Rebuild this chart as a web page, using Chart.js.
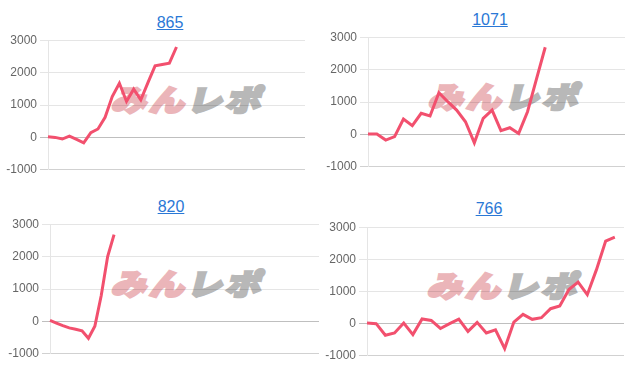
<!DOCTYPE html>
<html>
<head>
<meta charset="utf-8">
<script src="https://cdn.jsdelivr.net/npm/chart.js@4/dist/chart.umd.min.js"></script>
<style>
	body { margin: 0; background: #fff; width: 640px; height: 372px; position: relative; overflow: hidden; }
	.title { position: absolute; width: 100px; text-align: center; font: 16px "Liberation Sans", Arial, sans-serif; line-height: 20px; }
	.title a { color: #2a78d6; text-decoration: underline; }
	.wm { position: absolute; font-family: "Noto Sans CJK JP", sans-serif; font-weight: 900; font-size: 34px; line-height: 1; white-space: nowrap; letter-spacing: 3px; transform: skewX(-14deg) scale(1.03, 0.86); transform-origin: left bottom; }
	.wm .a { color: #ebb5b9; -webkit-text-stroke: 3px #ebb5b9; }
	.wm .b { color: #b8b8b8; -webkit-text-stroke: 3px #b8b8b8; }
	canvas { position: absolute; }
</style>
</head>
<body>
<script>
// values per chart (yen), trailing days have no data yet
const values865 = [20, 0, -50, 40, -60, -165, 145, 260, 620, 1260, 1670, 1110, 1490, 1160, 1690, 2210, 2250, 2290, 2790];
const values1071 = [10, 10, -175, -70, 475, 270, 650, 570, 1290, 1010, 750, 390, -260, 495, 750, 115, 205, 30, 700, 1700, 2690];
const values820 = [30, -50, -130, -200, -240, -290, -520, -150, 800, 2000, 2680];
const values766 = [20, 0, -360, -290, 20, -340, 145, 100, -150, 0, 140, -240, 40, -290, -190, -775, 50, 290, 135, 185, 465, 550, 1060, 1290, 900, 1680, 2570, 2690];

// number of days on each x axis
const dayCounts = [37, 30, 43, 29];
const titles = ['865', '1071', '820', '766'];
const yTicks = [-1000, 0, 1000, 2000, 3000];

const panels = [
	{ title: titles[0], data: values865, days: dayCounts[0], left: 3, top: 30, width: 307, height: 150, tx: 120, ty: 13, wx: 110, wy: 80 },
	{ title: titles[1], data: values1071, days: dayCounts[1], left: 323, top: 27, width: 307, height: 150, tx: 440, ty: 10, wx: 427, wy: 77 },
	{ title: titles[2], data: values820, days: dayCounts[2], left: 5, top: 214, width: 319, height: 150, tx: 121, ty: 197, wx: 110, wy: 264 },
	{ title: titles[3], data: values766, days: dayCounts[3], left: 322, top: 217, width: 307, height: 149, tx: 439, ty: 199, wx: 426, wy: 266 }
];

function dayLabels(n) {
	const out = [];
	for (let i = 1; i <= n; i++) out.push(String(i));
	return out;
}

function gridColor(ctx) {
	if (ctx.tick && ctx.tick.value === 0) return 'rgba(0,0,0,0.25)';
	if (ctx.tick && ctx.tick.value === -1000) return 'rgba(0,0,0,0.18)';
	return 'rgba(0,0,0,0.1)';
}

panels.forEach(p => {
	const t = document.createElement('div');
	t.className = 'title';
	t.style.left = p.tx + 'px';
	t.style.top = p.ty + 'px';
	t.innerHTML = `<a href="#">${p.title}</a>`;
	document.body.appendChild(t);

	const wm = document.createElement('div');
	wm.className = 'wm';
	wm.style.left = p.wx + 'px';
	wm.style.top = p.wy + 'px';
	wm.innerHTML = '<span class="a">みん</span><span class="b">レポ</span>';
	document.body.appendChild(wm);

	const c = document.createElement('canvas');
	c.width = p.width;
	c.height = p.height;
	c.style.left = p.left + 'px';
	c.style.top = p.top + 'px';
	document.body.appendChild(c);

	new Chart(c.getContext('2d'), {
		type: 'line',
		data: {
			labels: dayLabels(p.days),
			datasets: [{
				data: p.data,
				borderColor: '#f2506e',
				borderWidth: 3,
				pointRadius: 0,
				fill: false,
				tension: 0
			}]
		},
		options: {
			responsive: false,
			animation: false,
			layout: { padding: { left: 0, right: 5, top: 10, bottom: 10 } },
			plugins: { legend: { display: false }, tooltip: { enabled: false } },
			scales: {
				x: { display: false },
				y: {
					min: yTicks[0],
					max: yTicks[yTicks.length - 1],
					afterFit: s => { s.width = 45; },
					afterBuildTicks: s => { s.ticks = yTicks.map(v => ({ value: v })); },
					ticks: {
						color: '#666',
						font: { family: '"Liberation Sans", Arial, sans-serif', size: 12 },
						callback: v => String(v)
					},
					grid: { color: gridColor },
					border: { color: 'rgba(0,0,0,0.1)' }
				}
			}
		}
	});
});
</script>
</body>
</html>
